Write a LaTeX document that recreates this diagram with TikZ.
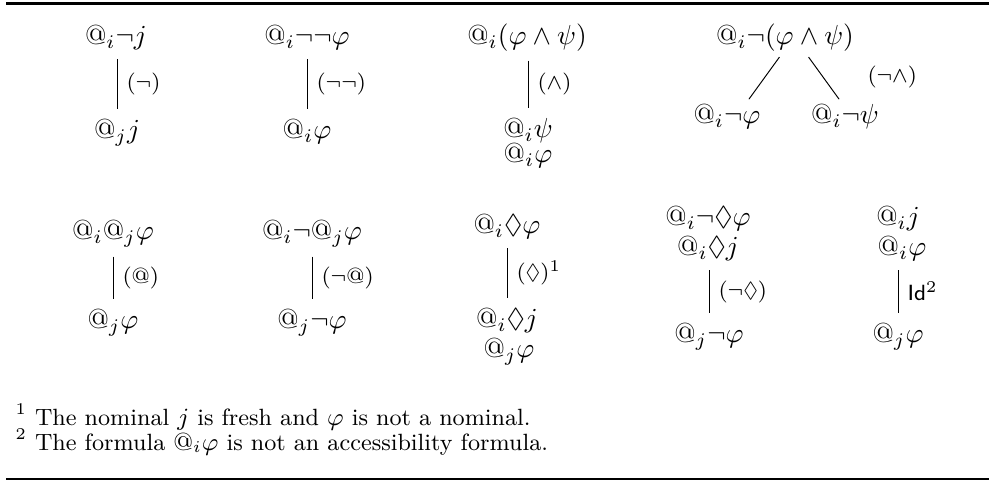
\documentclass[tikz,border=0pt]{standalone}
\usepackage{amsmath,amssymb}
\usetikzlibrary{positioning}

\tikzset{
  fml/.style={anchor=base},
  rulename/.style={font=\footnotesize, right},
  note/.style={font=\fontsize{8.55}{10}\selectfont, anchor=base west, inner sep=0pt},
  edge/.style={line width=0.35pt},
}

\begin{document}
\begin{tikzpicture}[x=0.3636pt,y=-0.3636pt]
  \useasboundingbox (0,0) rectangle (989,480);

  % table rules
  \coordinate (TL) at (6,3.8);
  \coordinate (TR) at (989,3.8);
  \coordinate (BL) at (6,479);
  \coordinate (BR) at (989,479);
  \draw[line width=1.1pt] (TL) -- (TR);
  \draw[line width=0.8pt] (BL) -- (BR);

  % (neg)
  \node[fml] (A1) at (116,44) {$@_i\neg j$};
  \node[fml] (A2) at (117,138) {$@_j j$};
  \draw[edge] (A2.north |- A1.south) -- (A2.north) node[midway,rulename] {$(\neg)$};

  % (neg neg)
  \node[fml] (B1) at (307,44) {$@_i\neg\neg\varphi$};
  \node[fml] (B2) at (307,138) {$@_i\varphi$};
  \draw[edge] (B2.north |- B1.south) -- (B2.north) node[midway,rulename] {$(\neg\neg)$};

  % (and)
  \node[fml] (C1) at (527,44) {$@_i(\varphi\wedge\psi)$};
  \node[fml] (C2) at (528,137) {$@_i\psi$};
  \node[fml] (C3) at (528,162) {$@_i\varphi$};
  \draw[edge] (C2.north |- C1.south) -- (C2.north) node[midway,rulename] {$(\wedge)$};

  % (neg and), branching
  \node[fml] (D1) at (785,44) {$@_i\neg(\varphi\wedge\psi)$};
  \node[fml] (D2) at (727,123) {$@_i\neg\varphi$};
  \node[fml] (D3) at (845,123) {$@_i\neg\psi$};
  \coordinate (Dtop) at (794,37);
  \coordinate (Dl) at (736,117);
  \coordinate (Dr) at (852,117);
  \draw[edge, shorten <=9pt, shorten >=8pt] (Dtop) -- (Dl);
  \draw[edge, shorten <=9pt, shorten >=8pt] (Dtop) -- (Dr);
  \node[font=\footnotesize, anchor=west, inner sep=0pt] (Dlab) at (867,77) {$(\neg\wedge)$};

  % (@)
  \node[fml] (E1) at (113,239) {$@_i@_j\varphi$};
  \node[fml] (E2) at (113,328) {$@_j\varphi$};
  \draw[edge] (E2.north |- E1.south) -- (E2.north) node[midway,rulename] {$(@)$};

  % (neg @)
  \node[fml] (F1) at (312,239) {$@_i\neg@_j\varphi$};
  \node[fml] (F2) at (312,328) {$@_j\neg\varphi$};
  \draw[edge] (F2.north |- F1.south) -- (F2.north) node[midway,rulename] {$(\neg@)$};

  % (diamond)
  \node[fml] (G1) at (507,233) {$@_i\Diamond\varphi$};
  \node[fml] (G2) at (507,327) {$@_i\Diamond j$};
  \node[fml] (G3) at (509,357) {$@_j\varphi$};
  \draw[edge] (G2.north |- G1.south) -- (G2.north) node[midway,rulename] {$(\Diamond)^1$};

  % (neg diamond)
  \node[fml] (H1) at (708,225) {$@_i\neg\Diamond\varphi$};
  \node[fml] (H2) at (708,255) {$@_i\Diamond j$};
  \node[fml] (H3) at (709,342) {$@_j\neg\varphi$};
  \draw[edge] (H3.north |- H2.south) -- (H3.north) node[midway,rulename] {$(\neg\Diamond)$};

  % Id
  \node[fml] (K1) at (898,225) {$@_i j$};
  \node[fml] (K2) at (902,255) {$@_i\varphi$};
  \node[fml] (K3) at (898,342) {$@_j\varphi$};
  \draw[edge] (K3.north |- K2.south) -- (K3.north) node[midway,rulename] {\textsf{Id}$^2$};

  % footnotes
  \node[note] (N1) at (15,425) {\textsuperscript{1} The nominal $j$ is fresh and $\varphi$ is not a nominal.};
  \node[note] (N2) at (15,450) {\textsuperscript{2} The formula $@_i\varphi$ is not an accessibility formula.};
\end{tikzpicture}
\end{document}
